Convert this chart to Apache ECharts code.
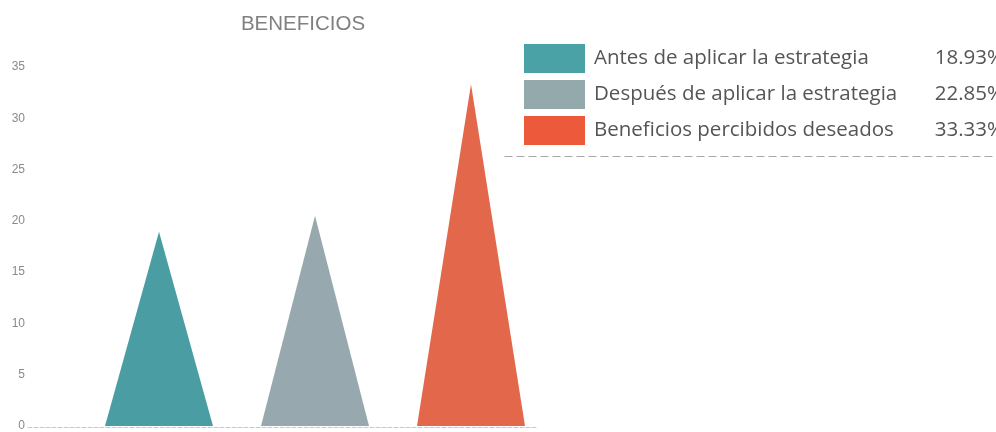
<!DOCTYPE html>
<html>
<head>
<meta charset="utf-8">
<script src="https://cdn.jsdelivr.net/npm/echarts@6/dist/echarts.min.js"></script>
<style>html,body{margin:0;padding:0;background:#fff;}#c{width:996px;height:432px;}</style>
</head>
<body>
<div id="c"></div>
<script>
const categories = ['A', 'B', 'C'];
const seriesNames = ['Antes de aplicar la estrategia', 'Después de aplicar la estrategia', 'Beneficios percibidos deseados'];
const values = [18.93, 20.5, 33.33];
const percentLabels = ['18.93%', '22.85%', '33.33%'];
const yTicks = [0, 5, 10, 15, 20, 25, 30, 35];
const fillColors = ['#4a9ea3', '#97a9ae', '#e3684b'];
const legendColors = ['#4aa1a6', '#94a9ac', '#ec5a3b'];

const chart = echarts.init(document.getElementById('c'));
const series = seriesNames.map((name, i) => ({
  name: name,
  type: 'pictorialBar',
  symbol: 'triangle',
  symbolSize: [108, '100%'],
  barGap: '-100%',
  xAxisIndex: 0, yAxisIndex: 0,
  itemStyle: { color: fillColors[i] },
  data: categories.map((c, j) => j === i ? values[i] : '-'),
  z: 3
}));
series.push({ type: 'line', xAxisIndex: 1, yAxisIndex: 1, data: [], silent: true });
series.push({ type: 'line', xAxisIndex: 2, yAxisIndex: 2, data: [], silent: true });

chart.setOption({
  animation: false,
  title: {
    text: 'BENEFICIOS', left: 298, top: 9, textAlign: 'center',
    textStyle: { fontFamily: 'Liberation Sans, Arial', fontSize: 20.5, fontWeight: 'normal', color: '#808080' }
  },
  legend: {
    orient: 'vertical', left: 524, top: 44, padding: 0,
    itemWidth: 61, itemHeight: 29, itemGap: 7,
    icon: 'rect',
    data: seriesNames.map((n, i) => ({ name: n, itemStyle: { color: legendColors[i] } })),
    formatter: function (name) {
      const i = seriesNames.indexOf(name);
      return '{a|' + name + '}{b|' + percentLabels[i] + '}';
    },
    textStyle: {
      color: '#555',
      rich: {
        a: { fontFamily: 'Open Sans', fontSize: 20.5, color: '#555', width: 330, padding: [0, 0, 0, 4] },
        b: { fontFamily: 'Open Sans', fontSize: 20.5, color: '#555', width: 80, align: 'right' }
      }
    }
  },
  grid: [
    { left: 81, right: 447, top: 67, bottom: 5 },
    { left: 28, right: 459, top: 67, bottom: 5 },
    { left: 505, right: 0, top: 150, bottom: 276 }
  ],
  xAxis: [
    { type: 'category', gridIndex: 0, data: categories, axisLine: { show: false }, axisTick: { show: false }, axisLabel: { show: false } },
    { type: 'category', gridIndex: 1, data: [''], axisLine: { lineStyle: { color: '#c8c8c8', type: 'dashed', width: 1 } }, axisTick: { show: false }, axisLabel: { show: false } },
    { type: 'category', gridIndex: 2, data: [''], axisLine: { lineStyle: { color: '#a8a8a8', type: [7, 5], width: 1.2 } }, axisTick: { show: false }, axisLabel: { show: false } }
  ],
  yAxis: [
    {
      type: 'value', gridIndex: 0, min: yTicks[0], max: yTicks[yTicks.length - 1], interval: 5,
      axisLine: { show: false }, axisTick: { show: false }, splitLine: { show: false },
      axisLabel: { margin: 56, padding: [4, 0, 0, 0], color: '#8a8a8a', fontFamily: 'Liberation Sans, Arial', fontSize: 12 }
    },
    { type: 'value', gridIndex: 1, min: 0, max: 35, show: false },
    { type: 'value', gridIndex: 2, min: 0, max: 1, show: false }
  ],
  series: series
});
</script>
</body>
</html>
